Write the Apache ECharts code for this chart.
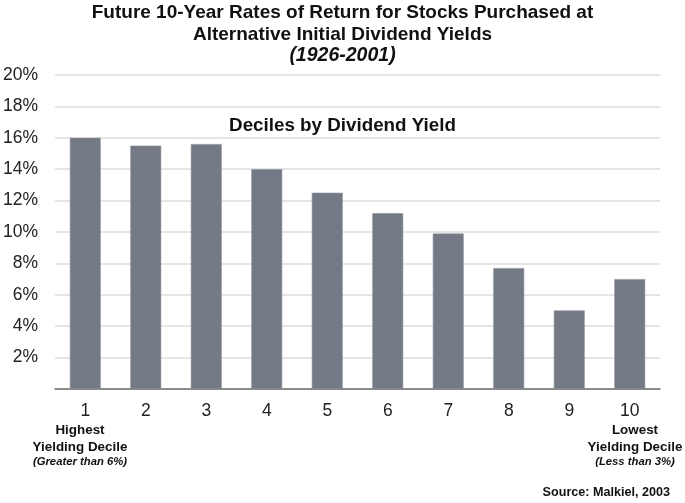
<!DOCTYPE html>
<html>
<head>
  <meta charset="UTF-8">
  <script src="https://cdn.jsdelivr.net/npm/echarts@6/dist/echarts.min.js"></script>
  <style>
    html, body { margin: 0; padding: 0; background: #fff; }
    #main { width: 685px; height: 503px; }
  </style>
</head>
<body>
  <div id="main"></div>
  <script>
    // deciles by initial dividend yield, 1 = highest yielding
    var deciles = ['1', '2', '3', '4', '5', '6', '7', '8', '9', '10'];
    // future 10-year rate of return, percent
    var returns = [16.0, 15.5, 15.6, 14.0, 12.5, 11.2, 9.9, 7.7, 5.0, 7.0];

    var font = '"Liberation Sans", Arial, Helvetica, sans-serif';

    var chart = echarts.init(document.getElementById('main'), null, { renderer: 'canvas' });

    chart.setOption({
      animation: false,
      textStyle: { fontFamily: font },
      title: [
        {
          text: 'Future 10-Year Rates of Return for Stocks Purchased at\nAlternative Initial Dividend Yields',
          left: 'center',
          top: -2.5,
          textStyle: { fontSize: 19, fontWeight: 'bold', color: '#111', lineHeight: 21.5, fontFamily: font }
        },
        {
          text: '(1926-2001)',
          left: 'center',
          top: 41,
          textStyle: { fontSize: 19.5, fontWeight: 'bold', fontStyle: 'italic', color: '#111', fontFamily: font }
        },
        {
          text: 'Deciles by Dividend Yield',
          left: 'center',
          top: 111,
          textStyle: { fontSize: 18.8, fontWeight: 'bold', color: '#111', fontFamily: font }
        }
      ],
      graphic: [
        {
          type: 'text', x: 80, y: 438.5,
          style: { text: 'Highest\nYielding Decile', align: 'center', verticalAlign: 'middle',
                   font: 'bold 13.4px ' + font, fill: '#111', lineHeight: 17 }
        },
        {
          type: 'text', x: 80, y: 462,
          style: { text: '(Greater than 6%)', align: 'center', verticalAlign: 'middle',
                   font: 'italic bold 11.3px ' + font, fill: '#111' }
        },
        {
          type: 'text', x: 635, y: 438.5,
          style: { text: 'Lowest\nYielding Decile', align: 'center', verticalAlign: 'middle',
                   font: 'bold 13.4px ' + font, fill: '#111', lineHeight: 17 }
        },
        {
          type: 'text', x: 635, y: 462,
          style: { text: '(Less than 3%)', align: 'center', verticalAlign: 'middle',
                   font: 'italic bold 11.3px ' + font, fill: '#111' }
        },
        {
          type: 'text', x: 670, y: 493,
          style: { text: 'Source: Malkiel, 2003', align: 'right', verticalAlign: 'middle',
                   font: 'bold 12.6px ' + font, fill: '#111' }
        }
      ],
      grid: { left: 55, right: 25, top: 75, bottom: 114, containLabel: false },
      xAxis: {
        type: 'category',
        data: deciles,
        axisLine: { show: true, lineStyle: { color: '#6e6e6e', width: 1.5 } },
        axisTick: { show: false },
        axisLabel: { fontSize: 17.5, color: '#222', margin: 13, fontFamily: font }
      },
      yAxis: {
        type: 'value',
        min: 0,
        max: 20,
        interval: 2,
        axisLine: { show: false },
        axisTick: { show: false },
        splitLine: { lineStyle: { color: '#dcdcdc', width: 1.5 } },
        axisLabel: {
          fontSize: 17.5, color: '#222', margin: 17, fontFamily: font,
          formatter: function (v) { return v === 0 ? '' : v + '%'; }
        }
      },
      series: [{
        type: 'bar',
        data: returns,
        barWidth: '51%',
        itemStyle: { color: '#737985', borderColor: '#8a8f98', borderWidth: 0.6 }
      }]
    });
  </script>
</body>
</html>
